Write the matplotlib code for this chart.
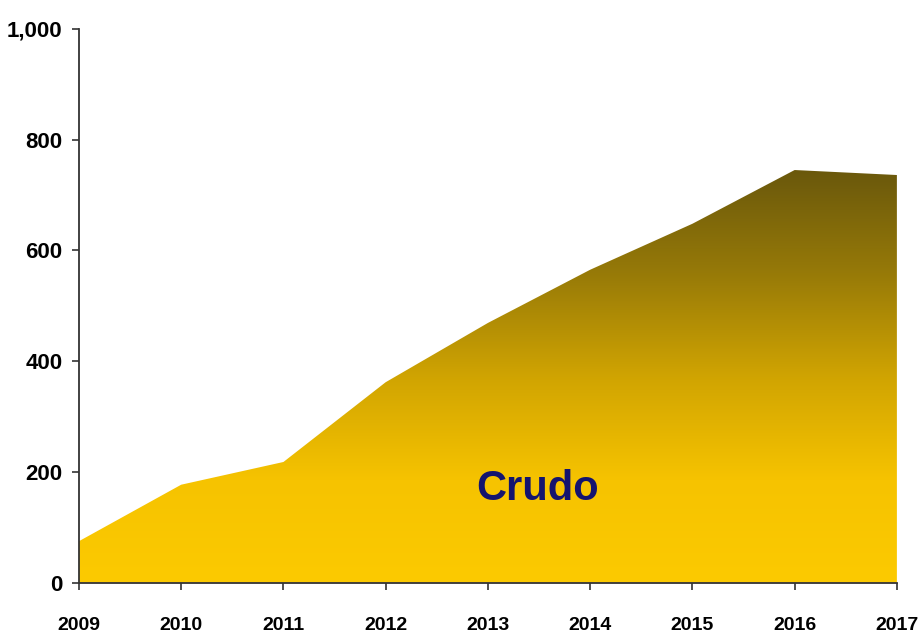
import matplotlib.pyplot as plt
import numpy as np
from matplotlib.colors import LinearSegmentedColormap
from matplotlib.ticker import FuncFormatter

years = [2009, 2010, 2011, 2012, 2013, 2014, 2015, 2016, 2017]
crudo = [75, 177, 218, 362, 469, 565, 648, 745, 736]
yticks = [0, 200, 400, 600, 800, 1000]

plt.rcParams['font.family'] = ['Liberation Sans', 'DejaVu Sans']

fig = plt.figure(figsize=(9.18, 6.39), dpi=100)
ax = fig.add_axes([0.086, 0.088, 0.891, 0.867])

# vertical gradient clipped to the area polygon
cmap = LinearSegmentedColormap.from_list(
    "crudo", [(0.0, "#FCCA00"), (0.25, "#F6C300"), (0.5, "#D0A402"),
              (0.75, "#977A08"), (1.0, "#6A580C")])
top = max(crudo)
grad = np.linspace(0, 1, 256).reshape(-1, 1)
poly = ax.fill_between(years, crudo, 0, color="none", lw=0)
img = ax.imshow(grad, cmap=cmap, origin="lower", aspect="auto",
                extent=[years[0], years[-1], 0, top], zorder=1)
path = poly.get_paths()[0]
img.set_clip_path(path, transform=ax.transData)

ax.text(2013.49, 170, "Crudo", color="#14146E", fontsize=30,
        fontweight="bold", ha="center", va="center", zorder=3)

ax.set_xlim(years[0], years[-1])
ax.set_ylim(0, 1000)
ax.set_xticks(years)
ax.set_yticks(yticks)
ax.yaxis.set_major_formatter(FuncFormatter(lambda v, p: f"{int(v):,}"))

for s in ["top", "right"]:
    ax.spines[s].set_visible(False)
for s in ["left", "bottom"]:
    ax.spines[s].set_color("#333333")
    ax.spines[s].set_linewidth(1.3)
ax.spines["bottom"].set_zorder(4)

ax.tick_params(axis="both", direction="out", length=5, width=1.2, color="#333333")
ax.tick_params(axis="y", labelsize=16, pad=7)
ax.tick_params(axis="x", labelsize=14, pad=20)
for lab in ax.get_xticklabels() + ax.get_yticklabels():
    lab.set_fontweight("bold")

fig.savefig("out.png", dpi=100)
